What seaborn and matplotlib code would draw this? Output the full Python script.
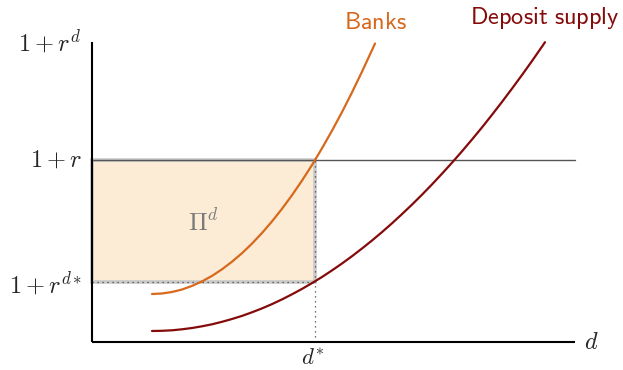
import matplotlib
matplotlib.use("Agg")
import matplotlib.pyplot as plt
import seaborn as sns
import pandas as pd
from matplotlib.patches import Rectangle

# Bank demand curve for deposits
banks_d = [0.60, 0.70, 0.80, 0.90, 1.00, 1.10, 1.20, 1.30, 1.40, 1.50, 1.60, 1.70,
           1.80, 1.90, 2.00, 2.10, 2.20, 2.30, 2.40, 2.50, 2.60, 2.70, 2.80, 2.83]
banks_r = [0.480, 0.485, 0.500, 0.525, 0.561, 0.606, 0.661, 0.727, 0.803, 0.888,
           0.984, 1.090, 1.206, 1.332, 1.468, 1.614, 1.770, 1.937, 2.113, 2.299,
           2.496, 2.703, 2.919, 2.985]

# Household deposit supply curve
supply_d = [0.60, 0.70, 0.80, 0.90, 1.00, 1.10, 1.20, 1.30, 1.40, 1.50, 1.60, 1.70,
            1.80, 1.90, 2.00, 2.10, 2.20, 2.30, 2.40, 2.50, 2.60, 2.70, 2.80, 2.90,
            3.00, 3.10, 3.20, 3.30, 3.40, 3.50, 3.60, 3.70, 3.80, 3.90, 4.00, 4.10,
            4.20, 4.30, 4.40, 4.50, 4.53]
supply_r = [0.110, 0.112, 0.117, 0.127, 0.140, 0.157, 0.177, 0.202, 0.230, 0.261,
            0.297, 0.336, 0.379, 0.426, 0.477, 0.531, 0.589, 0.650, 0.716, 0.785,
            0.858, 0.935, 1.015, 1.099, 1.187, 1.279, 1.374, 1.473, 1.576, 1.683,
            1.793, 1.907, 2.025, 2.146, 2.272, 2.401, 2.534, 2.670, 2.810, 2.954,
            2.998]

# Key levels
d_star = 2.23
gross_r = 1.82
gross_rd_star = 0.60
gross_rd_top = 3.00
d_max = 4.83

ORANGE = "#D7691C"
MAROON = "#850A0A"

sns.set_style("white")
plt.rcParams["mathtext.fontset"] = "cm"

fig = plt.figure(figsize=(6.23, 3.70), dpi=100)
ax = fig.add_axes([0, 0, 1, 1])

# Profit rectangle
ax.add_patch(Rectangle((0, gross_rd_star), d_star, gross_r - gross_rd_star,
                       facecolor="#FCEBD5", edgecolor="#C9C9C9", lw=2.6, zorder=1))
dots = dict(ls=(0, (1, 3)), color="#444444", lw=0.9, zorder=2)
ax.plot([0, d_star], [gross_rd_star, gross_rd_star], **dots)
ax.plot([d_star, d_star], [gross_rd_star, gross_r], **dots)
ax.plot([d_star, d_star], [0, gross_rd_star], **dots)

# Risk-free rate line
ax.plot([0, d_max], [gross_r, gross_r], color="#555555", lw=1.0, zorder=3)

# Curves
sns.lineplot(data=pd.DataFrame({"d": banks_d, "r": banks_r}), x="d", y="r",
             color=ORANGE, lw=1.6, sort=False, ax=ax, zorder=4)
sns.lineplot(data=pd.DataFrame({"d": supply_d, "r": supply_r}), x="d", y="r",
             color=MAROON, lw=1.6, sort=False, ax=ax, zorder=4)

ax.set_xlim(-0.92, 5.31)
ax.set_ylim(-0.28, 3.42)
ax.axis("off")

# Axes
ax.plot([0, 0], [0, gross_rd_top], color="black", lw=1.5, zorder=5, solid_capstyle="butt")
ax.plot([0, d_max], [0, 0], color="black", lw=1.5, zorder=5, solid_capstyle="butt")

# Labels
fs = 17.5
ax.text(-0.11, gross_rd_top, r"$1+r^d$", ha="right", va="center", fontsize=fs)
ax.text(-0.10, gross_r, r"$1+r$", ha="right", va="center", fontsize=fs)
ax.text(-0.10, gross_rd_star - 0.02, r"$1+r^{d*}$", ha="right", va="center", fontsize=fs)
ax.text(d_star - 0.02, -0.05, r"$d^{*}$", ha="center", va="top", fontsize=16.5)
ax.text(d_max + 0.09, 0.0, r"$d$", ha="left", va="center", fontsize=fs)
ax.text(1.11, 1.20, r"$\Pi^d$", ha="center", va="center", fontsize=18, color="#7A7A7A")
ax.text(2.84, 3.20, r"$\mathsf{Banks}$", ha="center", va="center", fontsize=17.5, color=ORANGE)
ax.text(4.53, 3.24, r"$\mathsf{Deposit\ supply}$", ha="center", va="center", fontsize=17.5, color=MAROON)

fig.savefig("out.png", dpi=100)
